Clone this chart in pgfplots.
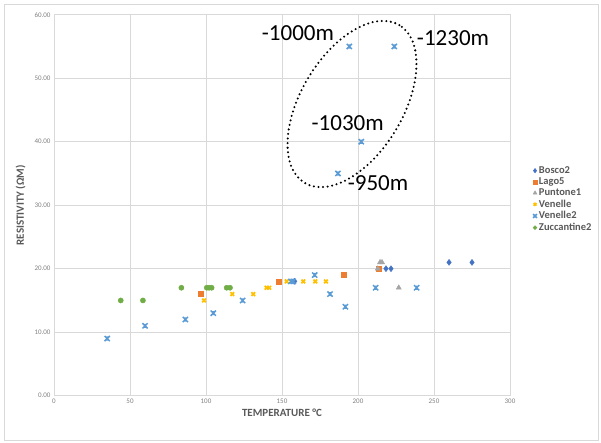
\documentclass[border=0pt]{standalone}
\usepackage{pgfplots}
\pgfplotsset{compat=1.18}
\usepackage{fontspec}
\setmainfont{Carlito}
\definecolor{cBosco}{HTML}{4472C4}
\definecolor{cLago}{HTML}{ED7D31}
\definecolor{cPunt}{HTML}{A5A5A5}
\definecolor{cVen}{HTML}{FFC000}
\definecolor{cVen2}{HTML}{5B9BD5}
\definecolor{cZucc}{HTML}{70AD47}
\definecolor{gridc}{HTML}{D9D9D9}
\definecolor{tickc}{HTML}{808080}
\definecolor{labc}{HTML}{595959}
\pgfdeclareplotmark{xstar}{%
  \pgfpathmoveto{\pgfqpoint{-\pgfplotmarksize}{-\pgfplotmarksize}}%
  \pgfpathlineto{\pgfqpoint{\pgfplotmarksize}{\pgfplotmarksize}}%
  \pgfpathmoveto{\pgfqpoint{-\pgfplotmarksize}{\pgfplotmarksize}}%
  \pgfpathlineto{\pgfqpoint{\pgfplotmarksize}{-\pgfplotmarksize}}%
  \pgfpathmoveto{\pgfqpoint{0pt}{-0.8\pgfplotmarksize}}%
  \pgfpathlineto{\pgfqpoint{0pt}{0.8\pgfplotmarksize}}%
  \pgfusepathqstroke}
\begin{document}
\begin{tikzpicture}[x=1pt,y=1pt]
\path (-54,-47.3) rectangle (547,395.7);
\draw[gridc, line width=0.8pt] (-50,-45) rectangle (544,391);
\begin{axis}[
  at={(0,0)}, anchor=origin,
  scale only axis, width=456pt, height=381pt,
  xmin=0, xmax=300, ymin=0, ymax=60,
  xtick={0,50,...,300}, ytick={0,10,...,60},
  grid=major, major grid style={gridc, line width=0.6pt},
  axis line style={gridc, line width=0.6pt},
  tick style={draw=none},
  /pgf/number format/assume math mode=true,
  yticklabel style={/pgf/number format/fixed, /pgf/number format/fixed zerofill, /pgf/number format/precision=2, font=\fontsize{7}{8}\selectfont, text=tickc},
  xticklabel style={font=\fontsize{7}{8}\selectfont, text=tickc},
  xlabel={\textbf{TEMPERATURE °C}},
  ylabel={\textbf{RESISTIVITY (ΩM)}},
  label style={font=\fontsize{11}{12}\selectfont, text=labc},
  xlabel style={yshift=2pt},
  ylabel style={yshift=2pt},
  legend style={at={(1.048,0.61)}, anchor=north west, draw=none, fill=none,
    font=\bfseries\fontsize{10.5}{11}\selectfont, text=labc, row sep=-1.2pt,
    legend cell align=left, inner sep=1pt},
  legend image code/.code={\draw[every mark/.append style={scale=0.75}] plot coordinates {(0.1cm,0cm)};},
]
\addplot[only marks, mark=diamond*, mark size=3pt, cBosco, mark options={fill=cBosco}] coordinates {
(158.3,18) (218.4,20) (221.7,20) (259.9,21) (275,21)};
\addlegendentry{Bosco2}
\addplot[only marks, mark=square*, mark size=2.6pt, cLago, mark options={fill=cLago}] coordinates {
(96.5,16) (147.6,18) (190.8,19) (213.4,20)};
\addlegendentry{Lago5}
\addplot[only marks, mark=triangle*, mark size=3pt, cPunt, mark options={fill=cPunt}] coordinates {
(213,20) (214.5,21) (215.8,21) (226.8,17)};
\addlegendentry{Puntone1}
\addplot[only marks, mark=x, mark size=2.6pt, cVen, mark options={line width=1.7pt}] coordinates {
(98.7,15) (117.3,16) (131.1,16) (139.9,17) (141.6,17) (153.1,18) (164,18) (171.9,18) (178.9,18)};
\addlegendentry{Venelle}
\addplot[only marks, mark=xstar, mark size=2.6pt, cVen2, mark options={line width=1.5pt}] coordinates {
(35,9) (59.9,11) (86.4,12) (104.8,13) (124.1,15) (155.9,18) (157.4,18) (171.5,19) (181.6,16) (191.7,14) (211.6,17) (238.6,17) (186.8,35) (194.3,55) (202.2,40) (223.9,55)};
\addlegendentry{Venelle2}
\addplot[only marks, mark=*, mark size=2.6pt, cZucc, mark options={fill=cZucc}] coordinates {
(43.9,15) (58.5,15) (83.8,17) (100.5,17) (102,17) (103.7,17) (113.6,17) (115.8,17)};
\addlegendentry{Zuccantine2}
\node[font=\fontsize{23}{25}\selectfont] at (axis cs:160.5,57.1) {-1000m};
\node[font=\fontsize{23}{25}\selectfont] at (axis cs:262.5,56.3) {-1230m};
\node[font=\fontsize{23}{25}\selectfont] at (axis cs:193.2,42.9) {-1030m};
\node[font=\fontsize{23}{25}\selectfont] at (axis cs:213.2,33.5) {-950m};
\end{axis}
\begin{scope}[shift={(298,291.7)}, rotate=59]
\draw[black, line width=2.3pt, line cap=round, dash pattern=on 0pt off 4.6pt] (0,0) ellipse [x radius=92, y radius=51];
\end{scope}
\end{tikzpicture}
\end{document}
